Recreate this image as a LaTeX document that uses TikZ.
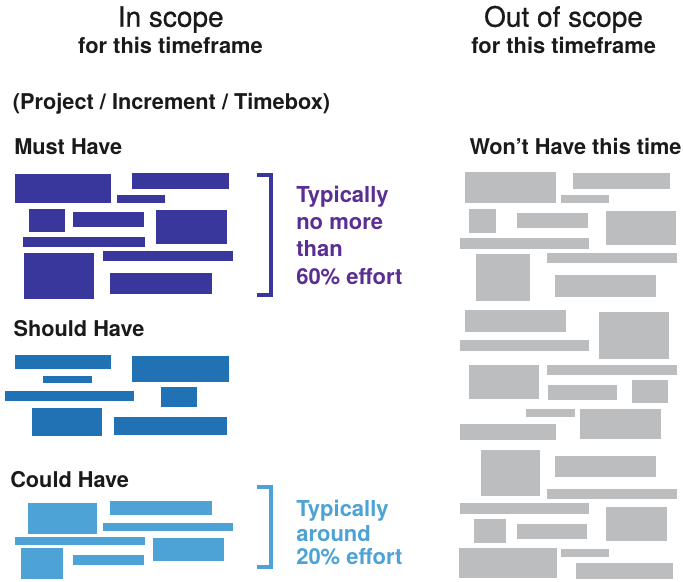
\documentclass[tikz,border=0pt]{standalone}
\usepackage{fontspec}
\setmainfont{TeX Gyre Heros}
\newfontfamily\headfont[FakeBold=0.7]{TeX Gyre Heros}
\begin{document}
\begin{tikzpicture}[x=0.75pt,y=-0.75pt,
  must/.style={fill=mustc},
  should/.style={fill=shouldc},
  could/.style={fill=couldc},
  wont/.style={fill=wontc},
  bracket/.style={line width=3.2pt,line cap=butt,line join=miter},
  head/.style={inner sep=0pt,anchor=base,font=\fontsize{21pt}{23pt}\headfont},
  subhead/.style={inner sep=0pt,anchor=base,font=\fontsize{16.4pt}{18pt}\selectfont\bfseries},
  label/.style={inner sep=0pt,anchor=base west,font=\fontsize{16.3pt}{18pt}\selectfont\bfseries},
  note/.style={inner sep=0pt,anchor=base west,font=\fontsize{16.5pt}{18pt}\selectfont\bfseries}]
\definecolor{mustc}{HTML}{39379B}
\definecolor{musttext}{HTML}{5A2E92}
\definecolor{shouldc}{HTML}{2171B5}
\definecolor{couldc}{HTML}{4DA3D5}
\definecolor{wontc}{HTML}{BCBDBF}
\definecolor{ink}{HTML}{1A1A1A}
\useasboundingbox (0,0) rectangle (683,582);

% column headings
\node[head,text=ink] (inscope) at (170.7,26.7) {In scope};
\node[subhead,text=ink] (intime) at (170.5,53.3) {for this timeframe};
\node[head,text=ink] (outscope) at (563.5,26.7) {Out of scope};
\node[subhead,text=ink] (outtime) at (563.7,53.3) {for this timeframe};

\node[label,text=ink] (pit) at (12.7,109) {(Project / Increment / Timebox)};
\node[label,text=ink] (mustlbl) at (14,154) {Must Have};
\node[label,text=ink] (wontlbl) at (469.3,154) {Won’t Have this time};
\node[label,text=ink] (shouldlbl) at (13.3,336.7) {Should Have};
\node[label,text=ink] (couldlbl) at (10,487.3) {Could Have};

% Must Have blocks
\fill[must] (14.7,174) rectangle (111.3,203.3);
\fill[must] (132,172.7) rectangle (228.7,188.7);
\fill[must] (116.7,194.7) rectangle (165.3,202.7);
\fill[must] (29.3,208.7) rectangle (65.3,232);
\fill[must] (73.3,212) rectangle (144,226.7);
\fill[must] (156,210) rectangle (226.7,244);
\fill[must] (22.7,237.3) rectangle (144.7,246.7);
\fill[must] (24,252.7) rectangle (94,298.7);
\fill[must] (103.3,251.3) rectangle (232.7,261.3);
\fill[must] (110,272.7) rectangle (212,294);

% Should Have blocks
\fill[should] (14.7,355.3) rectangle (111.3,369.3);
\fill[should] (132,356) rectangle (228.7,382);
\fill[should] (43.3,376) rectangle (92,383.3);
\fill[should] (4.7,391.3) rectangle (134,400.7);
\fill[should] (161.3,386.7) rectangle (197.3,407.3);
\fill[should] (32,408) rectangle (102,436);
\fill[should] (114,416.7) rectangle (226.7,435.3);

% Could Have blocks
\fill[could] (28,502.7) rectangle (97.3,534);
\fill[could] (110,500.7) rectangle (212,515.3);
\fill[could] (103.3,522.7) rectangle (232.7,530.7);
\fill[could] (15.3,537.3) rectangle (144.7,544.7);
\fill[could] (153.3,538) rectangle (224,561.3);
\fill[could] (20.7,548) rectangle (63.3,579.3);
\fill[could] (73.3,555.3) rectangle (144,565.3);

% Won't Have blocks
\fill[wont] (465.3,172) rectangle (556,202.7);
\fill[wont] (573.3,173.3) rectangle (670,188.7);
\fill[wont] (560.7,195.3) rectangle (609.3,203.3);
\fill[wont] (469.3,209.3) rectangle (496,232.7);
\fill[wont] (517.3,212.7) rectangle (588,228);
\fill[wont] (606,210.7) rectangle (676,245.3);
\fill[wont] (460,238) rectangle (588.7,248.7);
\fill[wont] (476,254) rectangle (530,301.3);
\fill[wont] (547.3,253.3) rectangle (676.7,263.3);
\fill[wont] (554.7,274.7) rectangle (656,296.7);
\fill[wont] (464.7,310) rectangle (566,332);
\fill[wont] (598.7,312) rectangle (668.7,358.7);
\fill[wont] (460,340) rectangle (589.3,350.7);
\fill[wont] (469.3,364.7) rectangle (539.3,399.3);
\fill[wont] (546.7,364.7) rectangle (676.7,374.7);
\fill[wont] (548,385.3) rectangle (617.3,400);
\fill[wont] (632,380) rectangle (668,403.3);
\fill[wont] (526,409.3) rectangle (574.7,417.3);
\fill[wont] (580,408.7) rectangle (661.3,438.7);
\fill[wont] (460,424) rectangle (556,440);
\fill[wont] (480.7,450) rectangle (540,496);
\fill[wont] (554.7,456) rectangle (656,477.3);
\fill[wont] (547.3,488.7) rectangle (676.7,498.7);
\fill[wont] (460,503.3) rectangle (588.7,514);
\fill[wont] (606,506.7) rectangle (666.7,540.7);
\fill[wont] (474,518.7) rectangle (506,542.7);
\fill[wont] (517.3,524) rectangle (587.3,539.3);
\fill[wont] (459.3,548) rectangle (556.7,578);
\fill[wont] (560.7,548.7) rectangle (609.3,556.7);
\fill[wont] (576,563.3) rectangle (672.7,579.3);

% effort brackets
\coordinate (mt0) at (257.3,175.3);
\coordinate (mt1) at (271.3,175.3);
\coordinate (mb1) at (271.3,295);
\coordinate (mb0) at (257.3,295);
\draw[bracket,draw=mustc] (mt0) -- (mt1) -- (mb1) -- (mb0);
\coordinate (ct0) at (257.3,486.7);
\coordinate (ct1) at (271.3,486.7);
\coordinate (cb1) at (271.3,567);
\coordinate (cb0) at (257.3,567);
\draw[bracket,draw=couldc] (ct0) -- (ct1) -- (cb1) -- (cb0);

% effort notes
\node[note,text=musttext] (m1) at (296,202) {Typically};
\node[note,text=musttext] (m2) at (296,229.5) {no more};
\node[note,text=musttext] (m3) at (296,256.8) {than};
\node[note,text=musttext] (m4) at (296,284) {60\% effort};
\node[note,text=couldc] (c1) at (296,516.7) {Typically};
\node[note,text=couldc] (c2) at (296,541) {around};
\node[note,text=couldc] (c3) at (296,564.5) {20\% effort};
\end{tikzpicture}
\end{document}
